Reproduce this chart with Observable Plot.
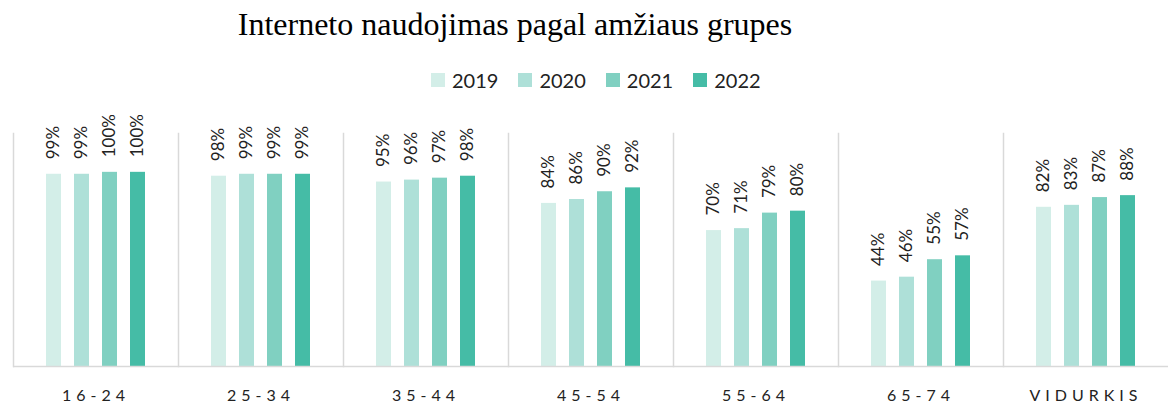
<!DOCTYPE html>
<html>
<head>
<meta charset="utf-8">
<script src="https://cdn.jsdelivr.net/npm/d3@7"></script>
<script src="https://cdn.jsdelivr.net/npm/@observablehq/plot@0.6"></script>
<style>
  body { margin: 0; background: #fff; }
  #wrap { position: relative; width: 1170px; height: 406px; overflow: hidden; font-family: Lato, "Open Sans", sans-serif; }
  #title { position: absolute; left: 0; top: 7px; width: 1030px; text-align: center;
           font-family: "Liberation Serif", "Times New Roman", serif; font-size: 32px; line-height: 34px; color: #000; }
  #legend { position: absolute; left: 431px; top: 68px; display: flex; align-items: center; font-size: 20px; color: #222; }
  #legend .item { display: flex; align-items: center; margin-right: 20px; }
  #legend .sw { width: 14px; height: 14px; margin-right: 7px; }
  #chart { position: absolute; left: 0; top: 100px; }
  g[aria-label="fx-axis tick label"] { font-size: 16px !important; }
  g[aria-label="fx-axis tick label"] text { letter-spacing: 5px; font-size: 16px; fill: #222; }
</style>
</head>
<body>
<div id="wrap">
  <div id="title">Interneto naudojimas pagal amžiaus grupes</div>
  <div id="legend"></div>
  <div id="chart"></div>
</div>
<script>
const groups = ["16-24", "25-34", "35-44", "45-54", "55-64", "65-74", "VIDURKIS"];
const years = ["2019", "2020", "2021", "2022"];
const v2019 = [99, 98, 95, 84, 70, 44, 82];
const v2020 = [99, 99, 96, 86, 71, 46, 83];
const v2021 = [100, 99, 97, 90, 79, 55, 87];
const v2022 = [100, 99, 98, 92, 80, 57, 88];
const colors = ["#d3eee8", "#aee0d8", "#80d0c1", "#45bca6"];

const series = [v2019, v2020, v2021, v2022];
const data = groups.flatMap((g, i) => years.map((y, j) => ({group: g, year: y, value: series[j][i]})));

// legend
const legend = document.getElementById("legend");
years.forEach((y, j) => {
  const item = document.createElement("div");
  item.className = "item";
  const sw = document.createElement("div");
  sw.className = "sw";
  sw.style.background = colors[j];
  const lab = document.createElement("span");
  lab.textContent = y;
  item.appendChild(sw);
  item.appendChild(lab);
  legend.appendChild(item);
});

const chart = Plot.plot({
  width: 1170,
  height: 306,
  marginTop: 33,
  marginBottom: 40,
  marginLeft: 10,
  marginRight: 0,
  style: {fontFamily: "Lato, 'Open Sans', sans-serif", background: "white", color: "#333", overflow: "visible"},
  fx: {domain: groups, padding: 0, label: null, axis: "bottom", tickSize: 0, tickPadding: 23},
  x: {domain: years, paddingInner: 0.47, paddingOuter: 1.17, axis: null},
  y: {domain: [0, 120], axis: null},
  color: {domain: years, range: colors},
  marks: [
    Plot.frame({anchor: "left", stroke: "#d9d9d9", strokeWidth: 1.5}),
    Plot.barY(data, {fx: "group", x: "year", y: "value", fill: "year"}),
    Plot.ruleY([0], {stroke: "#d9d9d9", strokeWidth: 1.5}),
    Plot.text(data, {
      fx: "group", x: "year", y: "value",
      text: d => d.value + "%",
      rotate: -90, textAnchor: "start", lineAnchor: "middle",
      dy: -15, fontSize: 17, fill: "#222"
    })
  ]
});
document.getElementById("chart").appendChild(chart);
</script>
</body>
</html>
